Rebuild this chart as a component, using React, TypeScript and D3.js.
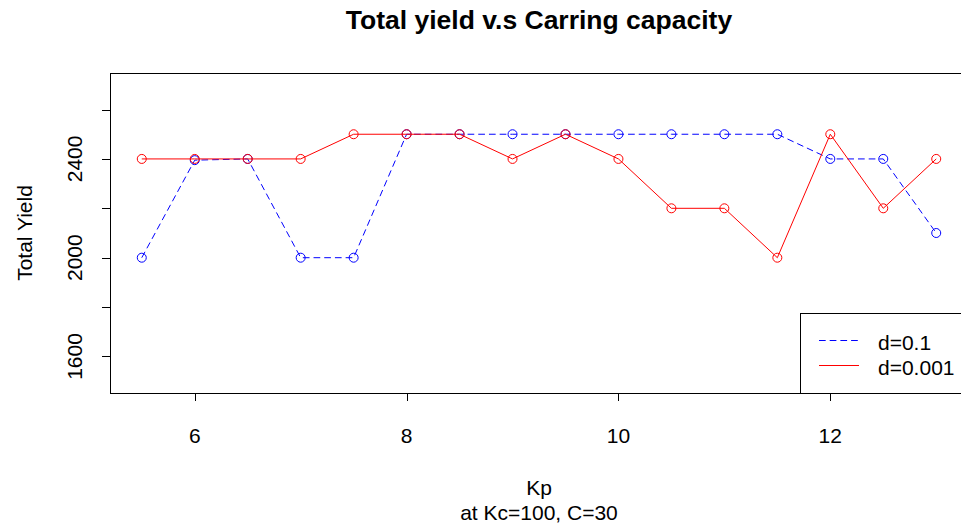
import { useEffect, useRef } from "react"
import * as d3 from "d3"

const kp = [5.5, 6, 6.5, 7, 7.5, 8, 8.5, 9, 9.5, 10, 10.5, 11, 11.5, 12, 12.5, 13]
const yieldD01 = [2000, 2395, 2400, 2000, 2000, 2500, 2500, 2500, 2500, 2500, 2500, 2500, 2500, 2400, 2400, 2100]
const yieldD0001 = [2400, 2400, 2400, 2400, 2500, 2500, 2500, 2400, 2500, 2400, 2200, 2200, 2000, 2500, 2200, 2400]
const xTicks = [6, 8, 10, 12]
const yTicks = [1600, 1800, 2000, 2200, 2400, 2600]
const yLabels = [1600, 2000, 2400]

const series = [
  { name: "d=0.1", values: yieldD01, color: "#0000ff", dash: "6.7,4" },
  { name: "d=0.001", values: yieldD0001, color: "#ff0000", dash: null },
]

const W = 961
const H = 529
const FONT = "'Liberation Sans', Arial, sans-serif"
const FS = 21

const App = () => {
  const ref = useRef<SVGSVGElement>(null)

  useEffect(() => {
    if (!ref.current) return
    const svg = d3.select(ref.current)
    svg.selectAll("*").remove()

    const left = 110
    const right = 968
    const top = 73
    const bottom = 393

    const x = d3.scaleLinear().domain([5.2, 13.3]).range([left, right])
    const y = d3.scaleLinear().domain([1452, 2748]).range([bottom, top])
    const cx = (left + right) / 2

    // title and axis labels
    svg.append("text")
      .attr("x", cx).attr("y", 29)
      .attr("text-anchor", "middle")
      .style("font", `bold 26.5px ${FONT}`)
      .text("Total yield v.s Carring capacity")

    svg.append("text")
      .attr("x", cx).attr("y", 495)
      .attr("text-anchor", "middle")
      .style("font", `${FS}px ${FONT}`)
      .text("Kp")

    svg.append("text")
      .attr("x", cx).attr("y", 520)
      .attr("text-anchor", "middle")
      .style("font", `${FS}px ${FONT}`)
      .text("at Kc=100, C=30")

    svg.append("text")
      .attr("transform", `translate(32,${(top + bottom) / 2}) rotate(-90)`)
      .attr("text-anchor", "middle")
      .style("font", `${FS}px ${FONT}`)
      .text("Total Yield")

    // axes
    const ax = svg.append("g").attr("stroke", "#000").attr("stroke-width", 1)
    ax.append("line")
      .attr("x1", x(xTicks[0])).attr("x2", x(xTicks[xTicks.length - 1]))
      .attr("y1", bottom + 0.5).attr("y2", bottom + 0.5)
    xTicks.forEach((t) => {
      ax.append("line")
        .attr("x1", Math.round(x(t)) + 0.5).attr("x2", Math.round(x(t)) + 0.5)
        .attr("y1", bottom).attr("y2", bottom + 8)
      svg.append("text")
        .attr("x", x(t)).attr("y", 443)
        .attr("text-anchor", "middle")
        .style("font", `${FS}px ${FONT}`)
        .text(String(t))
    })
    yTicks.forEach((t) => {
      ax.append("line")
        .attr("x1", left - 8).attr("x2", left)
        .attr("y1", Math.round(y(t)) + 0.5).attr("y2", Math.round(y(t)) + 0.5)
    })
    yLabels.forEach((t) => {
      svg.append("text")
        .attr("transform", `translate(82,${y(t)}) rotate(-90)`)
        .attr("text-anchor", "middle")
        .style("font", `${FS}px ${FONT}`)
        .text(String(t))
    })

    // plot box
    svg.append("rect")
      .attr("x", left + 0.5).attr("y", top + 0.5)
      .attr("width", right - left).attr("height", bottom - top)
      .attr("fill", "none").attr("stroke", "#000").attr("stroke-width", 1)

    const line = d3.line<number>()
      .x((_, i) => x(kp[i]))
      .y((d) => y(d))

    series.forEach((s) => {
      svg.append("path")
        .datum(s.values)
        .attr("d", line)
        .attr("fill", "none")
        .attr("stroke", s.color)
        .attr("stroke-width", 1)
        .attr("stroke-dasharray", s.dash)
      svg.append("g")
        .selectAll("circle")
        .data(s.values)
        .join("circle")
        .attr("cx", (_, i) => x(kp[i]))
        .attr("cy", (d) => y(d))
        .attr("r", 4.5)
        .attr("fill", "none")
        .attr("stroke", s.color)
        .attr("stroke-width", 1)
    })

    // legend (bottom right)
    const lg = svg.append("g")
    lg.append("rect")
      .attr("x", 800.5).attr("y", 313.5)
      .attr("width", right - 800).attr("height", bottom - 313)
      .attr("fill", "#fff").attr("stroke", "#000").attr("stroke-width", 1)
    series.forEach((s, i) => {
      const ly = 340 + i * 25
      lg.append("line")
        .attr("x1", 819).attr("x2", 859)
        .attr("y1", ly + 0.5).attr("y2", ly + 0.5)
        .attr("stroke", s.color)
        .attr("stroke-dasharray", s.dash)
      lg.append("text")
        .attr("x", 878).attr("y", ly + 10)
        .style("font", `${FS}px ${FONT}`)
        .text(s.name)
    })
  }, [])

  return (
    <svg
      ref={ref}
      width={W}
      height={H}
      style={{ position: "absolute", left: 0, top: 0, background: "#fff" }}
    />
  )
}

export default App
